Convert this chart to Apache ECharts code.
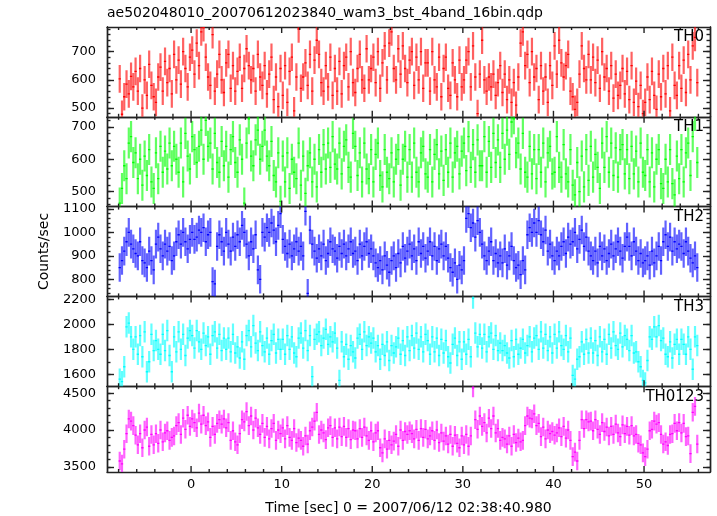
<!DOCTYPE html>
<html><head><meta charset="utf-8">
<script src="https://cdn.jsdelivr.net/npm/echarts@6/dist/echarts.min.js"></script>
<style>html,body{margin:0;padding:0;background:#fff}#c{width:717px;height:516px}</style>
</head><body><div id="c"></div>
<script>
const chartTitle = 'ae502048010_20070612023840_wam3_bst_4band_16bin.qdp';
const xTitle = 'Time [sec] 0 = 2007/06/12 02:38:40.980';
const yTitle = 'Counts/sec';
const panelNames = ['TH0', 'TH1', 'TH2', 'TH3', 'TH0123'];
const binStart = -8;
const binWidth = 0.25;

const th0 = [
603,478,540,585,550,612,575,630, 560,640,500,600,545,655,580,540,
520,610,645,560,665,590,640,550, 690,600,670,585,700,640,575,680,
705,620,730,650,770,785,680,610, 580,760,560,620,690,600,555,660,
690,570,650,560,630,680,570,640, 710,650,600,640,560,690,610,580,
650,550,620,680,530,610,505,640, 545,650,520,630,680,490,610,780,
570,610,660,580,690,560,670,740, 690,590,560,650,575,680,545,640,
560,665,550,650,680,575,700,590, 555,640,690,600,570,710,600,640,
680,590,700,570,660,720,600,730, 770,640,600,710,620,720,640,590,
670,700,580,680,600,700,570,660, 660,560,700,600,575,680,540,640,
680,570,545,660,600,540,670,575, 600,670,700,575,720,610,480,620,
740,600,560,610,575,620,545,590, 650,555,620,530,600,520,590,510,
610,730,770,650,690,590,700,610, 640,530,650,560,610,520,650,580,
720,620,740,660,610,650,690,560, 540,495,520,620,720,640,600,690,
600,680,590,670,570,700,610,640, 560,650,535,620,545,580,640,550,
630,530,650,520,595,505,580,480, 520,610,530,630,545,495,620,540,
640,550,650,490,680,580,545,650, 570,670,555,690,600,720,750,590
];
const th1 = [
465,510,580,540,650,670,590,620, 540,600,520,610,550,630,530,510,
620,540,640,560,625,570,650,580, 640,600,560,650,530,680,610,570,
670,630,590,640,690,600,720,640, 650,570,680,590,560,655,580,640,
545,630,670,590,560,660,600,465, 650,725,610,580,660,690,600,640,
690,610,580,655,550,530,620,470, 610,530,620,510,600,560,540,650,
520,610,495,580,620,530,600,515, 630,560,645,570,650,575,670,585,
570,650,555,640,660,575,545,680, 640,550,620,530,650,570,540,630,
530,615,650,550,515,630,560,540, 620,530,600,630,520,600,640,545,
630,545,650,560,530,620,640,555, 545,630,530,615,645,555,625,535,
630,560,650,545,620,640,555,625, 650,565,670,575,645,560,660,580,
580,670,560,655,575,680,590,660, 575,680,600,690,615,715,725,620,
650,570,680,560,545,640,555,630, 540,630,560,650,530,620,640,555,
560,670,575,545,645,555,530,630, 520,490,590,500,610,515,630,535,
640,545,615,575,510,650,575,670, 560,650,550,635,545,630,645,555,
630,540,640,555,625,530,650,560, 550,630,530,620,515,600,630,525,
510,600,530,630,525,490,610,540, 630,530,620,650,550,670,735,590
];
const th2 = [
850,880,920,960,1000,950,930,910, 900,960,880,870,850,920,880,840,
950,980,930,900,950,920,940,880, 900,960,990,950,1000,960,930,970,
1000,970,980,1010,1000,1020,960,990, 1000,790,780,940,990,960,920,1000,
950,920,980,940,990,960,1030,1000, 950,900,960,930,990,840,800,1000,
980,1020,1000,1040,1010,960,1030,1080, 970,940,910,950,900,930,960,920,
940,900,1090,740,1010,950,920,890, 930,900,950,880,910,960,930,920,
890,940,910,950,900,930,960,910, 920,880,950,900,940,960,910,930,
900,870,850,880,840,900,860,830, 880,900,850,910,870,940,890,920,
950,900,930,880,960,910,940,890, 920,960,900,940,880,930,950,900,
940,890,850,830,870,800,860,840, 880,1060,1080,1020,1040,980,1050,1000,
950,900,880,920,960,880,910,870, 900,870,930,860,900,940,880,850,
860,820,880,840,990,1020,1000,1040, 1000,1050,990,960,1010,920,950,900,
880,920,900,940,960,910,980,950, 960,1000,930,970,1010,940,980,920,
900,880,920,870,940,900,930,880, 910,950,900,930,960,920,890,940,
980,940,900,960,920,880,910,870, 880,900,860,920,870,900,940,880,
960,990,940,980,920,960,930,950, 940,910,960,920,890,870,900,850
];
const th3 = [
1560,1540,1660,1980,2010,1900,1800,1900, 1760,1910,1740,1940,1620,1700,1920,1790,
1870,1800,1760,1920,1790,1950,1750,1620, 1900,1780,1940,1800,1920,1750,1890,1950,
1910,1810,1950,1860,1800,1930,1830,1900, 1760,1910,1940,1810,1920,1790,1890,1800,
1890,1780,1920,1770,1820,1730,1860,1720, 1910,1950,1820,1990,1850,1790,1940,1830,
1780,1890,1760,1870,1920,1770,1880,1800, 1880,1760,1910,1800,1900,1770,1740,1890,
1930,1810,1950,1790,1910,1580,1880,1920, 1940,1830,1890,1960,1840,1900,1860,1930,
1810,1550,1860,1740,1840,1720,1830,1780, 1730,1890,1920,1800,1940,1830,1900,1850,
1890,1780,1830,1720,1840,1750,1860,1710, 1830,1770,1820,1890,1760,1870,1750,1900,
1790,1910,1810,1930,1800,1900,1780,1920, 1870,1760,1900,1780,1890,1750,1880,1770,
1870,1740,1690,1840,1890,1750,1860,1720, 1860,1760,1880,1740,2210,1930,1820,1920,
1810,1920,1780,1900,1930,1800,1910,1790, 1850,1790,1830,1770,1730,1870,1740,1880,
1760,1810,1880,1770,1830,1900,1780,1890, 1910,1800,1940,1810,1920,1790,1900,1770,
1920,1810,1940,1830,1800,1910,1780,1890, 1590,1560,1720,1740,1860,1760,1880,1770,
1890,1770,1870,1750,1900,1780,1880,1760, 1920,1810,1940,1830,1800,1930,1820,1910,
1880,1790,1910,1770,1780,1700,1660,1550, 1530,1710,1900,1880,1980,1900,1990,1870,
1890,1760,1740,1860,1730,1840,1880,1760, 1880,1840,1760,1900,1800,1640,1900,1830
];
const th0123 = [
3580,3540,3740,3950,4150,4120,4060,3930, 3800,3950,3760,4000,4040,3780,3940,3800,
3950,3820,4000,3840,3960,3990,3860,3900, 3920,4060,4100,3940,4160,4010,4200,4050,
4150,4100,4030,4230,4080,4200,4060,4110, 3900,4050,3940,4090,4140,4080,4150,4030,
4100,3860,3990,3840,3800,3950,4140,4110, 4250,4060,4190,4000,4160,4030,3940,4090,
3900,4050,3880,4020,4090,3860,4000,3950, 4030,3880,4060,3900,3860,4020,3830,3890,
3860,3780,3920,3810,3990,4040,4120,4240, 3940,4000,3960,3870,4030,4060,3900,4030,
3880,4040,3910,4050,3900,4020,3870,4000, 3990,3880,4020,3900,4040,3920,3860,3990,
3840,3960,3990,3760,3690,3880,3740,3860, 3800,3850,3940,3780,4000,3860,3980,3940,
3990,3950,3880,4010,3860,4020,3900,4010, 3880,3920,3990,3860,4000,3830,3960,3850,
3920,3810,3940,3780,3930,3820,3760,3920, 3800,3940,3780,3920,4570,4140,4010,4190,
4050,4100,3960,4160,4020,4190,3960,4020, 3860,3900,3880,3810,3920,3780,3940,3830,
3890,3840,3860,4060,4190,4160,4150,4220, 4060,4090,3910,4040,3880,4000,3950,3980,
3930,3960,4030,3910,4050,3890,4000,3860, 3640,3700,3580,3860,4140,4020,4140,4110,
4120,3990,4140,4010,3940,4100,3980,4040, 3920,4050,3940,4080,3960,3910,4070,3950,
4050,3930,4060,3920,3940,3820,3800,3690, 3640,3740,3990,4010,4120,4080,4100,3940,
3810,3840,3790,3940,3950,4090,3990,4100, 3960,4090,3910,3920,3680,4240,4320,3810
];
const panelValues = [th0, th1, th2, th3, th0123];
const panelErrors = [49, 48, 61, 86, 126];
const panelColors = ['#ff0000', '#00ff00', '#0000ff', '#00ffff', '#ff00ff'];

const yRanges = [[469, 787], [454, 731], [727, 1110], [1504, 2224], [3431, 4594]];
const yMajorTicks = [[500, 600, 700], [500, 600, 700], [800, 900, 1000, 1100], [1600, 1800, 2000, 2200], [3500, 4000, 4500]];
const yMinorStep = [20, 20, 20, 100, 100];
const xRange = [-9.28, 57.28];
const xMajorTicks = [0, 10, 20, 30, 40, 50];
const xMajorStep = 10;
const xMinorRange = [-8, 56], xMinorStep = 2;

const FONT = 'DejaVu Sans';
const gridLeft = 107, gridWidth = 603, gridTop = 27, panelH = 89.8;

function minorList(lo, hi, step) {
  const out = [];
  for (let v = Math.ceil(lo / step) * step; v <= hi; v += step) out.push(v);
  return out;
}
const xTickValues = minorList(xMinorRange[0], xMinorRange[1], xMinorStep);
const plain = v => String(v);

const grids = [], xAxes = [], yAxes = [], series = [], graphics = [];
const frameLine = { show: true, onZero: false, lineStyle: { color: '#222', width: 1.4 } };
const tickStyle = { color: '#222', width: 1.4 };
const TICK_COLOR = '#222';

for (let k = 0; k < 5; k++) {
  const top = gridTop + k * panelH;
  grids.push({ left: gridLeft, width: gridWidth, top: top, height: panelH, show: false });
  const xb = { type: 'value', gridIndex: k, min: xRange[0], max: xRange[1], splitLine: { show: false }, axisTick: { show: false } };
  xAxes.push(Object.assign({}, xb, { position: 'bottom', axisLine: frameLine,
    axisLabel: { show: k === 4, customValues: xMajorTicks, formatter: plain, margin: 6, color: '#000', fontFamily: FONT, fontSize: 13 },
    name: k === 4 ? xTitle : '', nameLocation: 'middle', nameGap: 29,
    nameTextStyle: { color: '#000', fontFamily: FONT, fontSize: 14 } }));
  xAxes.push(Object.assign({}, xb, { position: 'top', axisLine: frameLine, axisLabel: { show: false } }));

  const yr = yRanges[k];
  const yMinor = minorList(yr[0], yr[1], yMinorStep[k]);
  const yb = { type: 'value', gridIndex: k, min: yr[0], max: yr[1], splitLine: { show: false }, axisLine: frameLine };
  yAxes.push(Object.assign({}, yb, { position: 'left',
    axisTick: { show: true, inside: true, length: 7, customValues: yMajorTicks[k], lineStyle: tickStyle },
    axisLabel: { show: true, customValues: yMajorTicks[k], formatter: plain, margin: 11, color: '#000', fontFamily: FONT, fontSize: 13 },
    name: k === 2 ? yTitle : '', nameLocation: 'middle', nameGap: 56, nameRotate: 90,
    nameTextStyle: { color: '#000', fontFamily: FONT, fontSize: 14 } }));
  yAxes.push(Object.assign({}, yb, { position: 'left',
    axisTick: { show: true, inside: true, length: 3.5, customValues: yMinor, lineStyle: tickStyle },
    axisLabel: { show: false, customValues: yMinor } }));
  yAxes.push(Object.assign({}, yb, { position: 'right',
    axisTick: { show: true, inside: true, length: 7, customValues: yMajorTicks[k], lineStyle: tickStyle },
    axisLabel: { show: false, customValues: yMajorTicks[k] } }));
  yAxes.push(Object.assign({}, yb, { position: 'right',
    axisTick: { show: true, inside: true, length: 3.5, customValues: yMinor, lineStyle: tickStyle },
    axisLabel: { show: false, customValues: yMinor } }));

  const vals = panelValues[k];
  const err = panelErrors[k];
  const color = panelColors[k];
  series.push({
    type: 'custom', xAxisIndex: 2 * k, yAxisIndex: 4 * k, clip: true, silent: true,
    data: vals.map((v, i) => [binStart + binWidth * (i + 0.5), v]),
    renderItem: function (params, api) {
      const x = api.value(0), y = api.value(1);
      const pL = api.coord([x - binWidth / 2, y]);
      const pR = api.coord([x + binWidth / 2, y]);
      const pT = api.coord([x, y + err]);
      const pB = api.coord([x, y - err]);
      return { type: 'group', children: [
        { type: 'line', shape: { x1: pT[0], y1: pT[1], x2: pB[0], y2: pB[1] }, style: { stroke: color, lineWidth: 2.2, opacity: 0.62 } },
        { type: 'line', shape: { x1: pL[0], y1: pL[1], x2: pR[0], y2: pR[1] }, style: { stroke: color, lineWidth: 1.3 } }
      ] };
    }
  });

  // x-axis tick marks on the top and bottom frame, placed through the panel's own scales
  series.push({
    type: 'custom', xAxisIndex: 2 * k, yAxisIndex: 4 * k, clip: false, silent: true, z: 10,
    data: xTickValues.map(v => [v, (yr[0] + yr[1]) / 2]),
    renderItem: function (params, api) {
      const v = api.value(0);
      const len = (Math.abs(v) % xMajorStep === 0) ? 6 : 3;
      const pb = api.coord([v, yr[0]]);
      const pt = api.coord([v, yr[1]]);
      return { type: 'group', children: [
        { type: 'line', shape: { x1: pb[0], y1: pb[1], x2: pb[0], y2: pb[1] - len }, style: { stroke: TICK_COLOR, lineWidth: 1.4 } },
        { type: 'line', shape: { x1: pt[0], y1: pt[1], x2: pt[0], y2: pt[1] + len }, style: { stroke: TICK_COLOR, lineWidth: 1.4 } }
      ] };
    }
  });

  graphics.push({ type: 'text', right: 13, top: top + 3, z: 100,
    style: { text: panelNames[k], fill: '#000', font: '15px "' + FONT + '"' } });
}
graphics.push({ type: 'text', left: 107, top: 6,
  style: { text: chartTitle, fill: '#000', font: '14px "' + FONT + '"' } });

const chart = echarts.init(document.getElementById('c'), null, { renderer: 'canvas' });
chart.setOption({
  animation: false,
  backgroundColor: '#fff',
  grid: grids, xAxis: xAxes, yAxis: yAxes, series: series, graphic: graphics
});
</script></body></html>
